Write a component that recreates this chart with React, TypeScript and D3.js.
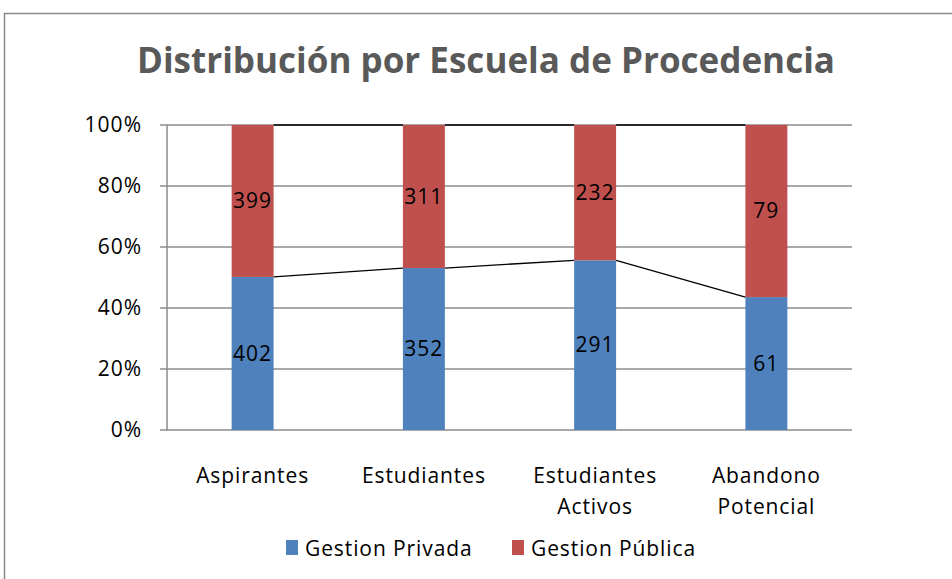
import * as d3 from "d3";

const categories = [["Aspirantes"], ["Estudiantes"], ["Estudiantes", "Activos"], ["Abandono", "Potencial"]];
const privada = [402, 352, 291, 61];
const publica = [399, 311, 232, 79];
const seriesNames = ["Gestion Privada", "Gestion Pública"];
const yTicks = [0, 0.2, 0.4, 0.6, 0.8, 1];

const W = 952;
const H = 579;
const FONT = "'Open Sans', 'Noto Sans', sans-serif";
const BLUE = "#4F81BD";
const RED = "#C0504D";
const GRID = "#8c8c8c";

export default function App() {
  const left = 167, right = 852, top = 125, bottom = 430;
  const x = d3.scaleBand<number>().domain(d3.range(categories.length)).range([left, right]).paddingInner(0).paddingOuter(0);
  const y = d3.scaleLinear().domain([0, 1]).range([bottom, top]);
  const barW = x.bandwidth() * 0.245;

  const rows = categories.map((_, i) => ({ i, privada: privada[i], publica: publica[i] }));
  const stack = d3.stack<any>().keys(["privada", "publica"]).offset(d3.stackOffsetExpand);
  const series = stack(rows);
  const colors = [BLUE, RED];

  const cx = (i: number) => (x(i) as number) + x.bandwidth() / 2;

  // series lines between adjacent bars
  const seriesLines: { x1: number; y1: number; x2: number; y2: number }[] = [];
  series.forEach((s) => {
    for (let i = 0; i < s.length - 1; i++) {
      seriesLines.push({ x1: cx(i) + barW / 2, y1: y(s[i][1]), x2: cx(i + 1) - barW / 2, y2: y(s[i + 1][1]) });
    }
  });

  return (
    <svg width={W} height={H} style={{ position: "absolute", left: 0, top: 0, background: "#fff" }} fontFamily={FONT}>
      <rect x={4.5} y={13.5} width={1000} height={1000} fill="#fff" stroke="#888" strokeWidth={1.5} />
      <text x={486} y={73} textAnchor="middle" fontSize={35} fontWeight="bold" fill="#595959" textLength={698} lengthAdjust="spacingAndGlyphs">
        Distribución por Escuela de Procedencia
      </text>

      {yTicks.map((t) => (
        <g key={t}>
          <line x1={left - 7} x2={right} y1={y(t)} y2={y(t)} stroke={GRID} strokeWidth={1.5} />
          <text x={142} y={y(t)} dy="0.35em" textAnchor="end" fontSize={21} letterSpacing={1} fill="#000">
            {d3.format(".0%")(t)}
          </text>
        </g>
      ))}
      <line x1={left} x2={left} y1={top} y2={bottom} stroke={GRID} strokeWidth={1.5} />

      {series.map((s, k) =>
        s.map((d, i) => (
          <g key={`${k}-${i}`}>
            <rect x={cx(i) - barW / 2} y={y(d[1])} width={barW} height={y(d[0]) - y(d[1])} fill={colors[k]} />
            <text x={cx(i)} y={(y(d[0]) + y(d[1])) / 2} dy="0.35em" textAnchor="middle" fontSize={21} letterSpacing={1} fill="#000">
              {k === 0 ? privada[i] : publica[i]}
            </text>
          </g>
        ))
      )}

      {seriesLines.map((l, i) => (
        <line key={i} x1={l.x1} y1={l.y1} x2={l.x2} y2={l.y2} stroke="#000" strokeWidth={1.3} />
      ))}

      {categories.map((lines, i) => (
        <text key={i} x={cx(i)} y={483} textAnchor="middle" fontSize={21} letterSpacing={0.9} fill="#000">
          {lines.map((ln, j) => (
            <tspan key={j} x={cx(i)} dy={j === 0 ? 0 : 31}>
              {ln}
            </tspan>
          ))}
        </text>
      ))}

      {seriesNames.map((n, k) => {
        const lx = k === 0 ? 286 : 512;
        return (
          <g key={n}>
            <rect x={lx} y={540} width={12} height={15} fill={colors[k]} />
            <text x={lx + 19} y={549} dy="0.35em" fontSize={21} letterSpacing={0.9} fill="#000">
              {n}
            </text>
          </g>
        );
      })}
    </svg>
  );
}
